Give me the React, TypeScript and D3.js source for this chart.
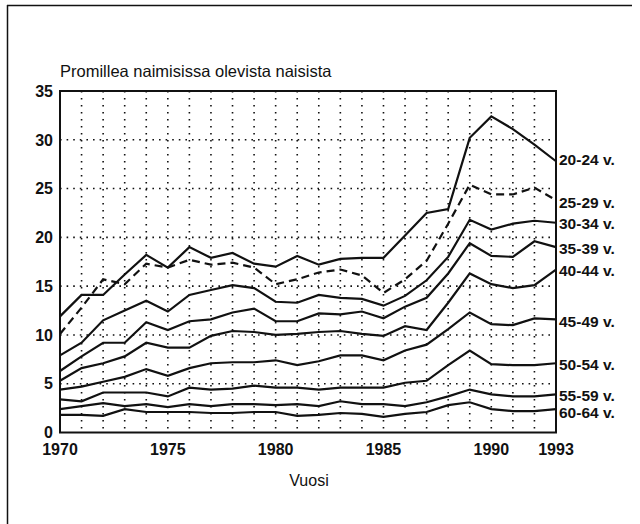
import React from "react";
import * as d3 from "d3";

const years = d3.range(1970, 1994);
const yTicks = [0, 5, 10, 15, 20, 25, 30, 35];
const xTickLabels = [1970, 1975, 1980, 1985, 1990, 1993];

const s2024 = [11.9, 14.1, 14.1, 16.2, 18.2, 16.9, 19.0, 17.9, 18.4, 17.3, 17.0, 18.1, 17.2, 17.8, 17.9, 17.9, 20.2, 22.5, 22.9, 30.2, 32.4, 31.1, 29.5, 27.8];
const s2529 = [10.1, 12.8, 15.7, 15.2, 17.3, 16.9, 17.7, 17.2, 17.4, 16.9, 15.2, 15.7, 16.4, 16.7, 16.1, 14.3, 15.7, 17.6, 21.4, 25.4, 24.4, 24.4, 25.1, 23.8];
const s3034 = [7.9, 9.2, 11.5, 12.5, 13.5, 12.4, 14.1, 14.6, 15.1, 14.8, 13.4, 13.3, 14.1, 13.8, 13.7, 13.0, 14.0, 15.6, 18.0, 21.8, 20.8, 21.4, 21.7, 21.5];
const s3539 = [6.3, 7.8, 9.2, 9.2, 11.3, 10.5, 11.4, 11.6, 12.3, 12.7, 11.4, 11.4, 12.2, 12.1, 12.4, 11.7, 12.9, 13.8, 16.3, 19.4, 18.1, 18.0, 19.6, 19.0];
const s4044 = [5.3, 6.6, 7.1, 7.8, 9.2, 8.7, 8.7, 9.9, 10.4, 10.3, 10.0, 10.1, 10.3, 10.4, 10.1, 9.9, 10.9, 10.5, 13.3, 16.3, 15.2, 14.8, 15.1, 16.7];
const s4549 = [4.4, 4.7, 5.2, 5.7, 6.5, 5.8, 6.6, 7.1, 7.2, 7.2, 7.4, 6.9, 7.3, 7.9, 7.9, 7.4, 8.4, 9.0, 10.6, 12.3, 11.1, 11.0, 11.7, 11.6];
const s5054 = [3.4, 3.2, 4.1, 4.1, 4.1, 3.7, 4.6, 4.4, 4.5, 4.8, 4.6, 4.6, 4.4, 4.6, 4.6, 4.6, 5.1, 5.3, 6.9, 8.4, 7.0, 6.9, 6.9, 7.1];
const s5559 = [2.4, 2.7, 3.0, 2.7, 2.9, 2.6, 2.9, 2.7, 2.9, 2.9, 2.8, 2.9, 2.7, 3.2, 2.9, 2.9, 2.7, 3.1, 3.7, 4.4, 3.9, 3.7, 3.7, 3.9];
const s6064 = [1.8, 1.8, 1.7, 2.4, 2.1, 2.1, 2.1, 2.0, 2.0, 2.1, 2.1, 1.7, 1.8, 2.0, 1.9, 1.6, 1.9, 2.1, 2.8, 3.1, 2.4, 2.2, 2.2, 2.4];

const seriesNames = ["20-24 v.", "25-29 v.", "30-34 v.", "35-39 v.", "40-44 v.", "45-49 v.", "50-54 v.", "55-59 v.", "60-64 v."];
const seriesValues = [s2024, s2529, s3034, s3539, s4044, s4549, s5054, s5559, s6064];
const labelValues = [28.0, 23.6, 21.4, 18.9, 16.6, 11.4, 7.0, 3.8, 2.1];

const W = 640, H = 524;
const left = 60, right = 556, top = 91, bottom = 432.5;
const font = "'Liberation Sans', Arial, sans-serif";

export default function App() {
  const x = d3.scaleLinear().domain([1970, 1993]).range([left, right]);
  const y = d3.scaleLinear().domain([0, 35]).range([bottom, top]);
  const line = d3.line<number>().x((_, i) => x(years[i])).y((d) => y(d));

  return (
    <svg width={W} height={H} style={{ position: "absolute", left: 0, top: 0, background: "#fff" }}>
      <rect x={0} y={0} width={W} height={H} fill="#fff" />
      {/* frame of scan */}
      <line x1={7.5} y1={5} x2={7.5} y2={H} stroke="#111" strokeWidth={1.5} />
      <line x1={7} y1={5.5} x2={632} y2={5.5} stroke="#111" strokeWidth={1.5} />

      <text x={left} y={77} fontFamily={font} fontSize={16.5} fill="#111">Promillea naimisissa olevista naisista</text>

      {/* grid */}
      {years.slice(1, -1).map((yr) => (
        <line key={"gx" + yr} x1={x(yr)} x2={x(yr)} y1={top} y2={bottom} stroke="#111" strokeWidth={1.6} strokeDasharray="1.6 5.4" />
      ))}
      {yTicks.slice(1, -1).map((t) => (
        <line key={"gy" + t} x1={left} x2={right} y1={y(t)} y2={y(t)} stroke="#111" strokeWidth={1.6} strokeDasharray="1.6 5" />
      ))}

      {/* series */}
      {seriesValues.map((vals, i) => (
        <path key={seriesNames[i]} d={line(vals) || ""} fill="none" stroke="#111" strokeWidth={2.2}
          strokeDasharray={i === 1 ? "8 5" : undefined} strokeLinejoin="miter" />
      ))}

      {/* axes frame */}
      <rect x={left} y={top} width={right - left} height={bottom - top} fill="none" stroke="#111" strokeWidth={2} />

      {/* y tick labels */}
      {yTicks.map((t) => (
        <text key={"yl" + t} x={53} y={y(t)} dy="0.36em" textAnchor="end" fontFamily={font} fontSize={16} fontWeight={600} fill="#111">{t}</text>
      ))}
      {/* x tick labels */}
      {xTickLabels.map((t) => (
        <text key={"xl" + t} x={x(t)} y={455} textAnchor="middle" fontFamily={font} fontSize={16} fontWeight={600} fill="#111">{t}</text>
      ))}
      <text x={309} y={486} textAnchor="middle" fontFamily={font} fontSize={16} fill="#111">Vuosi</text>

      {/* series labels */}
      {seriesNames.map((n, i) => (
        <text key={"sl" + n} x={559} y={y(labelValues[i])} dy="0.36em" fontFamily={font} fontSize={15.5} fontWeight={600} fill="#111">{n}</text>
      ))}
    </svg>
  );
}
